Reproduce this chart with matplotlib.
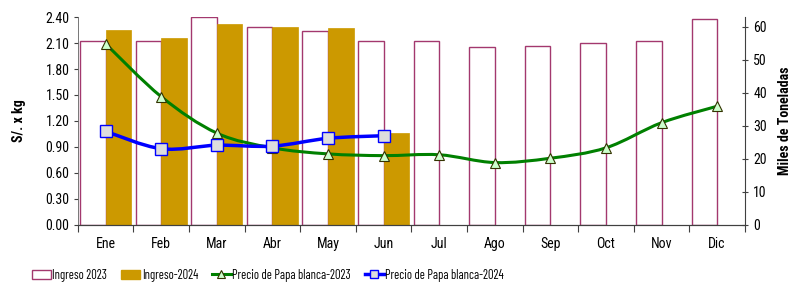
import numpy as np
import matplotlib.pyplot as plt
from matplotlib.path import Path
from matplotlib.patches import PathPatch, Patch
from matplotlib.lines import Line2D

plt.rcParams['font.family'] = ['Liberation Sans Narrow', 'Arial Narrow',
                               'Roboto Condensed', 'Archivo Narrow',
                               'Liberation Sans', 'DejaVu Sans']

meses = ["Ene", "Feb", "Mar", "Abr", "May", "Jun",
         "Jul", "Ago", "Sep", "Oct", "Nov", "Dic"]
ingreso_2023 = [55.8, 55.6, 62.9, 60.0, 58.8, 55.8, 55.6, 53.9, 54.2, 55.2, 55.8, 62.5]
ingreso_2024 = [59.1, 56.7, 61.0, 60.1, 59.7, 28.0]
precio_2023 = [2.09, 1.48, 1.06, 0.89, 0.82, 0.80, 0.81, 0.72, 0.77, 0.89, 1.18, 1.37]
precio_2024 = [1.08, 0.88, 0.92, 0.91, 1.00, 1.03]


def smooth_path(xs, ys):
    """bezier path through the points, like excel's smoothed line"""
    pts = np.column_stack([xs, ys]).astype(float)
    n = len(pts)
    verts = [pts[0]]
    codes = [Path.MOVETO]
    for i in range(n - 1):
        p0 = pts[i - 1] if i > 0 else pts[i]
        p1 = pts[i]
        p2 = pts[i + 1]
        p3 = pts[i + 2] if i + 2 < n else pts[i + 1]
        c1 = p1 + (p2 - p0) / 6
        c2 = p2 - (p3 - p1) / 6
        verts += [c1, c2, p2]
        codes += [Path.CURVE4] * 3
    return Path(verts, codes)


fig = plt.figure(figsize=(7.95, 2.84), dpi=100)
ax = fig.add_axes([0.098, 0.208, 0.839, 0.732])
ax2 = ax.twinx()

x = np.arange(len(meses))
w = 0.46
ax2.bar(x[:len(ingreso_2023)] - w / 2, ingreso_2023, w, color="white",
        edgecolor="#A3386E", linewidth=1.0)
ax2.bar(x[:len(ingreso_2024)] + w / 2, ingreso_2024, w, color="#CC9900",
        edgecolor="#CC9900", linewidth=0.5)

# lines above the bars
ax.set_zorder(ax2.get_zorder() + 1)
ax.patch.set_visible(False)

ax.add_patch(PathPatch(smooth_path(x[:len(precio_2023)], precio_2023),
                       fill=False, edgecolor="#008000", lw=2.2))
ax.plot(x[:len(precio_2023)], precio_2023, ls="none", marker="^", ms=7.5,
        mfc="#CCFFCC", mec="#333300", mew=0.8)
ax.add_patch(PathPatch(smooth_path(x[:len(precio_2024)], precio_2024),
                       fill=False, edgecolor="#0000FF", lw=2.5))
ax.plot(x[:len(precio_2024)], precio_2024, ls="none", marker="s", ms=8,
        mfc="#DDDDDD", mec="#0000FF", mew=1.0)

ax.set_xlim(-0.5, 11.5)
ax.set_ylim(0, 2.4)
ax.set_yticks(np.arange(0, 2.41, 0.3))
ax.set_yticklabels([f"{v:.2f}" for v in np.arange(0, 2.41, 0.3)])
ax2.set_ylim(0, 63)
ax2.set_yticks(range(0, 61, 10))

ax.set_xticks(np.arange(-0.5, 12, 1))
ax.set_xticklabels([])
ax.set_xticks(x, minor=True)
ax.set_xticklabels(meses, minor=True)
ax.tick_params(axis="x", which="major", length=5, color="#404040", direction="out")
ax.tick_params(axis="x", which="minor", length=0, pad=9, labelsize=10)
ax.tick_params(axis="y", length=3, color="#404040", labelsize=10, pad=3)
ax2.tick_params(axis="y", length=4, direction="inout", color="#404040",
                labelsize=10, pad=4)

for a in (ax, ax2):
    for s in ("top", "left", "right"):
        a.spines[s].set_visible(False)
    a.spines["bottom"].set_color("#404040")
ax.spines["left"].set_visible(True)
ax.spines["left"].set_color("#606060")
ax.spines["left"].set_linewidth(0.6)
ax2.spines["right"].set_visible(True)
ax2.spines["right"].set_color("#404040")

ax.set_ylabel("S/. x kg", fontsize=10, fontweight="bold", labelpad=14)
ax2.set_ylabel("Miles de Toneladas", fontsize=10, fontweight="bold", labelpad=8)

handles = [
    Patch(facecolor="white", edgecolor="#A3386E", lw=1.0),
    Patch(facecolor="#CC9900", edgecolor="#CC9900"),
    Line2D([], [], color="#008000", lw=2.2, marker="^", ms=6,
           mfc="#CCFFCC", mec="#333300", mew=0.8),
    Line2D([], [], color="#0000FF", lw=2.5, marker="s", ms=6,
           mfc="#DDDDDD", mec="#0000FF", mew=1.0),
]
labels = ["Ingreso 2023", "Ingreso-2024", "Precio de Papa blanca-2023",
          "Precio de Papa blanca-2024"]
fig.legend(handles, labels, loc="center left", bbox_to_anchor=(0.04, 0.03),
           ncol=4, frameon=False, handlelength=1.5,
           handleheight=0.8, handletextpad=0.15, columnspacing=1.1,
           borderaxespad=0, borderpad=0,
           prop={"family": ["Barlow Condensed", "Roboto Condensed", "DejaVu Sans"],
                 "size": 9})

fig.savefig("out.png", dpi=100)
